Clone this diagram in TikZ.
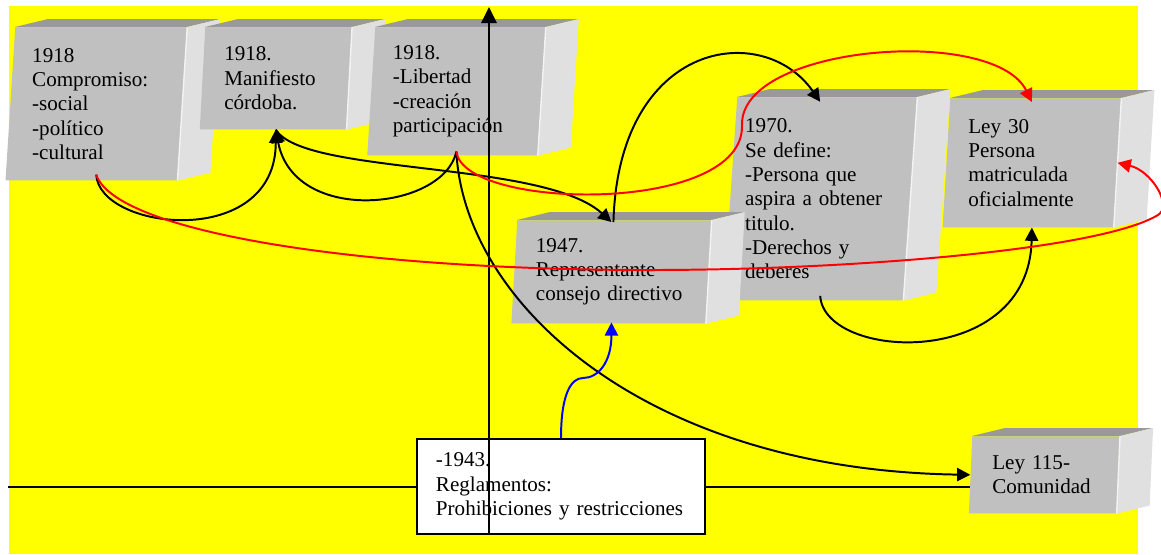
\documentclass[tikz,border=0pt]{standalone}
\usepackage{fontspec}
\setmainfont{Liberation Serif}
\usetikzlibrary{shapes.geometric,arrows.meta}
\definecolor{amarillo}{RGB}{255,255,0}
\definecolor{frente}{RGB}{192,192,192}
\definecolor{techo}{RGB}{153,153,153}
\definecolor{lado}{RGB}{224,224,224}
% caras superior y lateral de cada caja
\newcommand{\caras}[1]{%
  \fill[techo] (#1.top left corner) -- ++(33,-8) -- ([shift={(33,-8)}]#1.top right corner) -- (#1.top right corner) -- cycle;
  \fill[lado] (#1.top right corner) -- ++(33,-8) -- ([shift={(33,-8)}]#1.bottom right corner) -- (#1.bottom right corner) -- cycle;
  \draw[white!60!lado, line width=1pt] (#1.top right corner) -- (#1.bottom right corner);}

\begin{document}
\begin{tikzpicture}[x=0.025cm, y=-0.025cm,
    caja/.style={shape=trapezium, trapezium left angle=85, trapezium right angle=95,
      trapezium stretches body, fill=frente, inner sep=0pt, align=left,
      anchor=top left corner, font=\fontsize{15}{17.3}\selectfont},
    linea/.style={line width=1.4pt},
    punta/.style={-{Triangle[length=0.33cm,width=0.33cm]}},
    eje/.style={line width=1.6pt}]
    \useasboundingbox (0,0) rectangle (1161,554);
    \fill[amarillo] (9,6) rectangle (1138,554);

    \node[caja, minimum width=4.535cm, minimum height=3.825cm, text width=3.2cm] (comp) at (15,27) {1918\\Compromiso:\\-social\\-político\\-cultural};
    \caras{comp}
    \node[caja, minimum width=3.8cm, minimum height=2.55cm, text width=2.575cm] (mani) at (205,27) {1918.\\Manifiesto\\córdoba.};
    \caras{mani}
    \node[caja, minimum width=4.455cm, minimum height=3.2cm, text width=3.175cm] (libe) at (375,27) {1918.\\-Libertad\\-creación\\participación};
    \caras{libe}
    \node[caja, minimum width=4.845cm, minimum height=5.075cm, text width=3.75cm] (def) at (737,97) {1970.\\Se define:\\-Persona que\\aspira a obtener\\titulo.\\-Derechos y\\deberes};
    \caras{def}
    \node[caja, minimum width=4.46cm, minimum height=3.225cm, text width=3.175cm] (ley30) at (950,98) {Ley 30\\Persona\\matriculada\\oficialmente};
    \caras{ley30}
    \node[caja, minimum width=5cm, minimum height=2.575cm, text width=3.775cm] (rep) at (517,220) {1947.\\Representante\\consejo directivo};
    \caras{rep}
    \node[caja, minimum width=3.77cm, minimum height=1.925cm, text width=2.6cm] (ley115) at (972,436) {Ley 115-\\Comunidad};
    \caras{ley115}

    % ejes
    \coordinate (hizq) at (8,487);
    \draw[eje] (hizq) -- (hizq -| ley115.west);
    \node[draw, line width=1.2pt, fill=white, minimum width=7.2cm, minimum height=2.375cm, text width=6.25cm,
      align=left, inner sep=0pt, font=\fontsize{15}{17.3}\selectfont] (regl) at (561,486.5) {-1943.\\Reglamentos:\\Prohibiciones y restricciones};
    \coordinate (vbase) at (489,534);
    \coordinate (vtope) at (489,7);
    \draw[eje, -{Triangle[length=0.4cm,width=0.38cm]}] (vbase) -- (vtope);

    % flechas negras
    \draw[linea, punta] ([yshift=0.15cm]comp.south) .. controls +(3,56) and +(0,121) .. (mani.south);
    \draw[linea, punta] ([yshift=0.1cm]libe.south) .. controls +(-13,59) and +(18,96) .. (mani.south);
    \draw[linea, punta] (mani.south) .. controls +(28,46) and +(-68,-62) .. ([yshift=-0.05cm]rep.north);
    \draw[linea, punta] ([yshift=0.1cm]libe.south) .. controls +(7,149) and +(-328,-5) .. (ley115.west);
    \draw[linea, punta] ([shift={(2,2)}]rep.north) .. controls +(5,-182) and +(-57,-82) .. ([yshift=-0.12cm]def.north);
    \draw[linea, punta] ([yshift=0.12cm]def.south) .. controls +(4,65) and +(-3,143) .. (ley30.south);

    % flechas rojas
    \draw[linea, red, punta] ([yshift=0.15cm]comp.south) .. controls +(18,56) and +(-300,0) .. (650,270)
      .. controls +(200,0) and +(-58,35) .. (1158,215) .. controls +(15,-9) and +(34,8) .. (ley30.east);
    \draw[linea, red, punta] ([yshift=0.1cm]libe.south) .. controls +(7,59) and +(3,90) .. (742,125)
      .. controls +(-2,-80) and +(-38,-77) .. ([yshift=-0.1cm]ley30.north);

    % flecha azul
    \draw[linea, blue, punta] (regl.north) .. controls +(0,-44) and +(-12,0) .. (583,378)
      .. controls +(15,0) and +(0,40) .. ([yshift=0.03cm]rep.south);
\end{tikzpicture}
\end{document}
